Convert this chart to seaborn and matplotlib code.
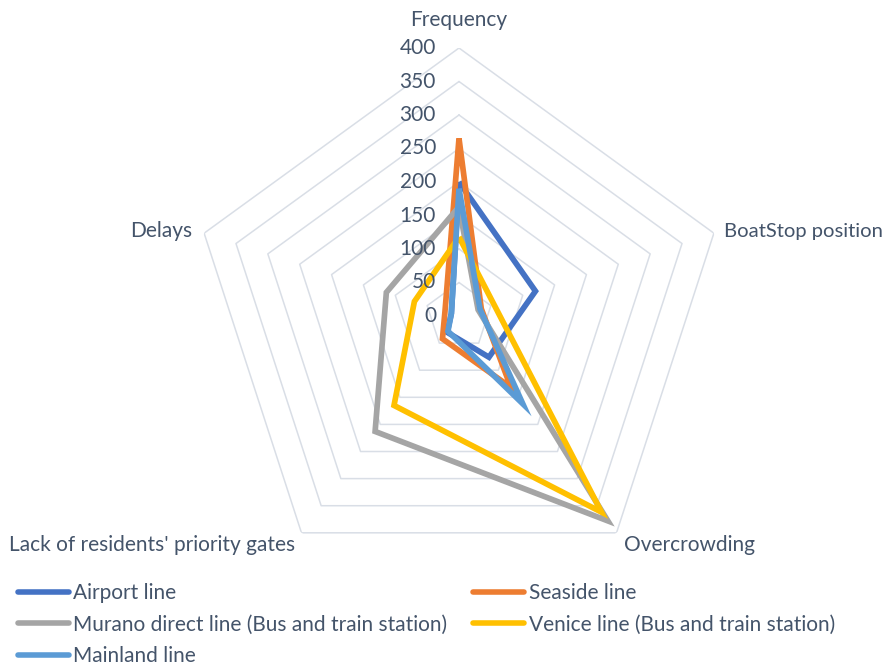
import numpy as np
import pandas as pd
import matplotlib
matplotlib.use("Agg")
import matplotlib.pyplot as plt
import seaborn as sns
from matplotlib.lines import Line2D

categories = ["Frequency", "BoatStop position", "Overcrowding",
              "Lack of residents' priority gates", "Delays"]
series_names = ["Airport line", "Seaside line",
                "Murano direct line (Bus and train station)",
                "Venice line (Bus and train station)", "Mainland line"]
airport = [200, 120, 76, 30, 12]
seaside = [265, 35, 132, 42, 22]
murano = [163, 30, 378, 213, 114]
venice = [118, 55, 362, 165, 70]
mainland = [190, 33, 162, 28, 12]
radial_ticks = [0, 50, 100, 150, 200, 250, 300, 350, 400]
colors = ["#4472C4", "#ED7D31", "#A5A5A5", "#FFC000", "#5B9BD5"]

sns.set_theme(style="white")
plt.rcParams["font.family"] = ["Lato", "DejaVu Sans"]
txt_color = "#44546A"
fs = 15

W, H = 888, 668
fig = plt.figure(figsize=(W / 100, H / 100), dpi=100)
cx, cy, R = 459, 316, 268
ax = fig.add_axes([(cx - R) / W, (H - cy - R) / H, 2 * R / W, 2 * R / H],
                  projection="polar")
ax.set_theta_zero_location("N")
ax.set_theta_direction(-1)

n = len(categories)
angles = [2 * np.pi * i / n for i in range(n)]

# polygon grid
for lv in radial_ticks[1:]:
    ax.plot(angles + [2 * np.pi], [lv] * (n + 1), color="#D9DEE6", lw=1.1, zorder=1)

rows = []
for name, vals in zip(series_names, [airport, seaside, murano, venice, mainland]):
    for a, v in zip(angles + [2 * np.pi], vals + [vals[0]]):
        rows.append({"series": name, "theta": a, "value": v})
df = pd.DataFrame(rows)

sns.lineplot(data=df, x="theta", y="value", hue="series", hue_order=series_names,
             palette=colors, sort=False, estimator=None, linewidth=4.1,
             legend=False, ax=ax, zorder=3)
for l in ax.lines[len(radial_ticks) - 1:]:
    l.set_solid_joinstyle("miter")
    l.set_solid_capstyle("butt")

ax.set_ylim(0, 400)
ax.grid(False)
ax.spines["polar"].set_visible(False)
ax.set_xticks([])
ax.set_yticks([])
ax.set_xlabel("")
ax.set_ylabel("")

for v in radial_ticks:
    ax.annotate(str(v), xy=(0, v), xytext=(-23, 0), textcoords="offset pixels",
                ha="right", va="center", fontsize=fs, color=txt_color)

label_offsets = [((0, 28), "center"), ((10, 2), "left"), ((7, -12), "left"),
                 ((-6, -12), "right"), ((-12, 2), "right")]
label_sizes = [fs, fs - 0.4, fs, fs, fs]
for a, cat, (off, ha), s in zip(angles, categories, label_offsets, label_sizes):
    ax.annotate(cat, xy=(a, 400), xytext=off, textcoords="offset pixels",
                ha=ha, va="center", fontsize=s, color=txt_color,
                annotation_clip=False)

handles = [Line2D([0], [0], color=c, lw=4, solid_capstyle="round") for c in colors]
order = [0, 2, 4, 1, 3]
leg = fig.legend([handles[i] for i in order], [series_names[i] for i in order],
                 loc="upper left", bbox_to_anchor=(18 / W, 1 - 583 / H), ncol=2,
                 frameon=False, fontsize=fs, handlelength=2.45, handletextpad=0.2,
                 columnspacing=1.25, labelspacing=0.56, borderpad=0, borderaxespad=0)
for t in leg.get_texts():
    t.set_color(txt_color)

fig.savefig("out.png", dpi=100)
